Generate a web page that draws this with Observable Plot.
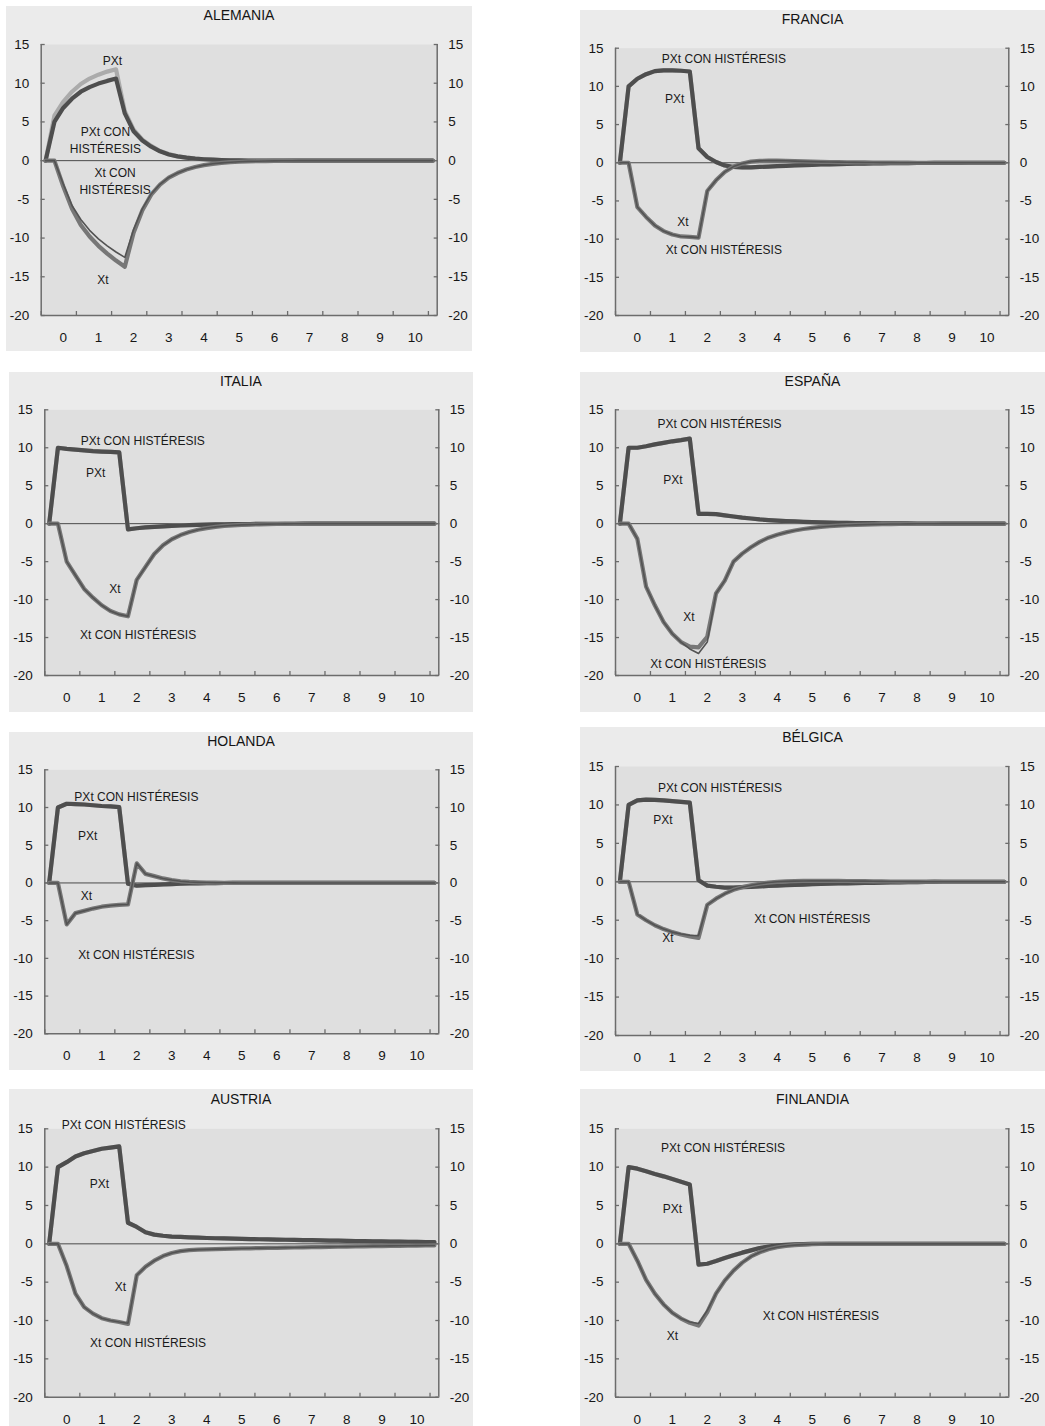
<!DOCTYPE html>
<html>
<head>
<meta charset="utf-8">
<script src="https://cdn.jsdelivr.net/npm/d3@7"></script>
<script src="https://cdn.jsdelivr.net/npm/@observablehq/plot@0.6"></script>
<style>
  body { margin: 0; background: #ffffff; font-family: "Liberation Sans", Arial, sans-serif; }
  #root { position: relative; width: 1045px; height: 1426px; overflow: hidden; }
  .panel { position: absolute; background: #ebebeb; }
  .panel svg { position: absolute; left: 0; top: 0; overflow: visible; }
  .title { position: absolute; left: 0; right: 0; text-align: center; font-size: 14px; line-height: 14px; color: #141414; }
</style>
</head>
<body>
<div id="root"></div>
<script>
// ---------------- DATA ----------------
const countries = ["ALEMANIA", "FRANCIA", "ITALIA", "ESPAÑA", "HOLANDA", "BÉLGICA", "AUSTRIA", "FINLANDIA"];
const yearLabels = [0, 1, 2, 3, 4, 5, 6, 7, 8, 9, 10];
const yTicks = [15, 10, 5, 0, -5, -10, -15, -20];

// quarterly points (45 per series)
const alemaniaPXt = [0, 5.8, 7.6, 8.9, 9.9, 10.6, 11.1, 11.5, 11.8, 6.4, 4.0, 2.7, 1.9, 1.25, 0.85, 0.55, 0.38, 0.26, 0.18, 0.12, 0.08, 0.05, 0.03, 0.02, 0.01, 0, 0, 0, 0, 0, 0, 0, 0, 0, 0, 0, 0, 0, 0, 0, 0, 0, 0, 0, 0];
const alemaniaPXtHist = [0, 5.0, 6.8, 8.0, 8.9, 9.5, 9.95, 10.3, 10.6, 6.1, 3.8, 2.6, 1.8, 1.2, 0.8, 0.55, 0.38, 0.26, 0.18, 0.12, 0.08, 0.05, 0.03, 0.02, 0.01, 0, 0, 0, 0, 0, 0, 0, 0, 0, 0, 0, 0, 0, 0, 0, 0, 0, 0, 0, 0];
const alemaniaXt = [0, 0, -3.3, -6.2, -8.3, -9.8, -11.0, -12.0, -12.9, -13.7, -9.3, -6.4, -4.4, -3.1, -2.2, -1.6, -1.15, -0.82, -0.58, -0.41, -0.29, -0.2, -0.14, -0.1, -0.07, -0.05, -0.03, -0.02, -0.01, 0, 0, 0, 0, 0, 0, 0, 0, 0, 0, 0, 0, 0, 0, 0, 0];
const alemaniaXtHist = [0, 0, -3.0, -5.8, -7.6, -9.0, -10.1, -11.0, -11.8, -12.5, -8.9, -6.2, -4.3, -3.05, -2.17, -1.58, -1.15, -0.82, -0.58, -0.41, -0.29, -0.2, -0.14, -0.1, -0.07, -0.05, -0.03, -0.02, -0.01, 0, 0, 0, 0, 0, 0, 0, 0, 0, 0, 0, 0, 0, 0, 0, 0];

const franciaPXt = [0, 10.0, 11.0, 11.6, 12.0, 12.1, 12.1, 12.05, 11.95, 1.9, 0.75, 0.1, -0.35, -0.55, -0.6, -0.6, -0.55, -0.5, -0.45, -0.4, -0.35, -0.3, -0.27, -0.23, -0.2, -0.17, -0.15, -0.13, -0.11, -0.09, -0.08, -0.06, -0.05, -0.04, -0.03, -0.03, -0.02, -0.02, -0.01, -0.01, 0, 0, 0, 0, 0];
const franciaPXtHist = [0, 10.0, 11.0, 11.6, 12.0, 12.1, 12.1, 12.05, 11.95, 1.9, 0.75, 0.1, -0.35, -0.55, -0.6, -0.6, -0.55, -0.5, -0.45, -0.4, -0.35, -0.3, -0.27, -0.23, -0.2, -0.17, -0.15, -0.13, -0.11, -0.09, -0.08, -0.06, -0.05, -0.04, -0.03, -0.03, -0.02, -0.02, -0.01, -0.01, 0, 0, 0, 0, 0];
const franciaXt = [0, 0, -5.8, -7.1, -8.2, -8.95, -9.4, -9.65, -9.7, -9.8, -3.7, -2.3, -1.2, -0.5, -0.1, 0.15, 0.25, 0.28, 0.28, 0.26, 0.22, 0.18, 0.15, 0.12, 0.1, 0.08, 0.06, 0.05, 0.04, 0.03, 0.02, 0.02, 0.01, 0.01, 0, 0, 0, 0, 0, 0, 0, 0, 0, 0, 0];
const franciaXtHist = [0, 0, -5.8, -7.1, -8.2, -8.95, -9.4, -9.65, -9.7, -9.8, -3.7, -2.3, -1.2, -0.5, -0.1, 0.15, 0.25, 0.28, 0.28, 0.26, 0.22, 0.18, 0.15, 0.12, 0.1, 0.08, 0.06, 0.05, 0.04, 0.03, 0.02, 0.02, 0.01, 0.01, 0, 0, 0, 0, 0, 0, 0, 0, 0, 0, 0];

const italiaPXt = [0, 10.0, 9.85, 9.75, 9.65, 9.55, 9.5, 9.45, 9.4, -0.75, -0.6, -0.5, -0.42, -0.35, -0.29, -0.24, -0.2, -0.16, -0.13, -0.1, -0.08, -0.06, -0.05, -0.04, -0.03, -0.02, -0.02, -0.01, -0.01, 0, 0, 0, 0, 0, 0, 0, 0, 0, 0, 0, 0, 0, 0, 0, 0];
const italiaPXtHist = [0, 10.0, 9.85, 9.75, 9.65, 9.55, 9.5, 9.45, 9.4, -0.75, -0.6, -0.5, -0.42, -0.35, -0.29, -0.24, -0.2, -0.16, -0.13, -0.1, -0.08, -0.06, -0.05, -0.04, -0.03, -0.02, -0.02, -0.01, -0.01, 0, 0, 0, 0, 0, 0, 0, 0, 0, 0, 0, 0, 0, 0, 0, 0];
const italiaXt = [0, 0, -5.0, -6.8, -8.6, -9.75, -10.75, -11.5, -11.95, -12.2, -7.4, -5.7, -4.0, -2.85, -2.05, -1.5, -1.1, -0.8, -0.58, -0.42, -0.3, -0.22, -0.16, -0.12, -0.09, -0.06, -0.04, -0.03, -0.02, -0.01, 0, 0, 0, 0, 0, 0, 0, 0, 0, 0, 0, 0, 0, 0, 0];
const italiaXtHist = [0, 0, -5.0, -6.8, -8.6, -9.75, -10.75, -11.5, -11.95, -12.2, -7.4, -5.7, -4.0, -2.85, -2.05, -1.5, -1.1, -0.8, -0.58, -0.42, -0.3, -0.22, -0.16, -0.12, -0.09, -0.06, -0.04, -0.03, -0.02, -0.01, 0, 0, 0, 0, 0, 0, 0, 0, 0, 0, 0, 0, 0, 0, 0];

const espanaPXt = [0, 10.0, 10.0, 10.2, 10.45, 10.65, 10.85, 11.0, 11.2, 1.3, 1.3, 1.25, 1.1, 0.95, 0.8, 0.68, 0.56, 0.47, 0.4, 0.34, 0.29, 0.24, 0.2, 0.17, 0.14, 0.12, 0.1, 0.08, 0.07, 0.06, 0.05, 0.04, 0.03, 0.03, 0.02, 0.02, 0.01, 0.01, 0, 0, 0, 0, 0, 0, 0];
const espanaPXtHist = [0, 10.0, 10.0, 10.2, 10.45, 10.65, 10.85, 11.0, 11.2, 1.3, 1.3, 1.25, 1.1, 0.95, 0.8, 0.68, 0.56, 0.47, 0.4, 0.34, 0.29, 0.24, 0.2, 0.17, 0.14, 0.12, 0.1, 0.08, 0.07, 0.06, 0.05, 0.04, 0.03, 0.03, 0.02, 0.02, 0.01, 0.01, 0, 0, 0, 0, 0, 0, 0];
const espanaXt = [0, 0, -2.0, -8.3, -10.75, -12.95, -14.5, -15.6, -16.2, -16.3, -14.9, -9.2, -7.5, -5.0, -3.95, -3.1, -2.4, -1.85, -1.45, -1.15, -0.9, -0.7, -0.55, -0.43, -0.33, -0.26, -0.2, -0.16, -0.12, -0.09, -0.07, -0.05, -0.04, -0.03, -0.02, -0.02, -0.01, 0, 0, 0, 0, 0, 0, 0, 0];
const espanaXtHist = [0, 0, -2.0, -8.3, -10.75, -12.95, -14.5, -15.6, -16.5, -17.1, -15.6, -9.2, -7.5, -5.0, -3.95, -3.1, -2.4, -1.85, -1.45, -1.15, -0.9, -0.7, -0.55, -0.43, -0.33, -0.26, -0.2, -0.16, -0.12, -0.09, -0.07, -0.05, -0.04, -0.03, -0.02, -0.02, -0.01, 0, 0, 0, 0, 0, 0, 0, 0];

const holandaPXt = [0, 10.0, 10.5, 10.45, 10.4, 10.3, 10.2, 10.15, 10.05, -0.1, -0.35, -0.3, -0.25, -0.2, -0.15, -0.1, -0.07, -0.05, -0.03, -0.02, -0.01, 0, 0, 0, 0, 0, 0, 0, 0, 0, 0, 0, 0, 0, 0, 0, 0, 0, 0, 0, 0, 0, 0, 0, 0];
const holandaPXtHist = [0, 10.0, 10.5, 10.45, 10.4, 10.3, 10.2, 10.15, 10.05, -0.1, -0.35, -0.3, -0.25, -0.2, -0.15, -0.1, -0.07, -0.05, -0.03, -0.02, -0.01, 0, 0, 0, 0, 0, 0, 0, 0, 0, 0, 0, 0, 0, 0, 0, 0, 0, 0, 0, 0, 0, 0, 0, 0];
const holandaXt = [0, 0, -5.5, -4.0, -3.7, -3.4, -3.15, -3.0, -2.9, -2.85, 2.6, 1.2, 0.9, 0.6, 0.38, 0.22, 0.13, 0.08, 0.05, 0.03, 0.02, 0.01, 0, 0, 0, 0, 0, 0, 0, 0, 0, 0, 0, 0, 0, 0, 0, 0, 0, 0, 0, 0, 0, 0, 0];
const holandaXtHist = [0, 0, -5.5, -4.0, -3.7, -3.4, -3.15, -3.0, -2.9, -2.85, 2.6, 1.2, 0.9, 0.6, 0.38, 0.22, 0.13, 0.08, 0.05, 0.03, 0.02, 0.01, 0, 0, 0, 0, 0, 0, 0, 0, 0, 0, 0, 0, 0, 0, 0, 0, 0, 0, 0, 0, 0, 0, 0];

const belgicaPXt = [0, 10.0, 10.6, 10.7, 10.65, 10.6, 10.5, 10.4, 10.3, 0.2, -0.5, -0.65, -0.75, -0.75, -0.7, -0.65, -0.6, -0.55, -0.5, -0.45, -0.4, -0.36, -0.32, -0.28, -0.25, -0.22, -0.2, -0.17, -0.15, -0.13, -0.1, -0.08, -0.07, -0.05, -0.04, -0.03, -0.02, -0.02, -0.01, -0.01, 0, 0, 0, 0, 0];
const belgicaPXtHist = [0, 10.0, 10.6, 10.7, 10.65, 10.6, 10.5, 10.4, 10.3, 0.2, -0.5, -0.65, -0.75, -0.75, -0.7, -0.65, -0.6, -0.55, -0.5, -0.45, -0.4, -0.36, -0.32, -0.28, -0.25, -0.22, -0.2, -0.17, -0.15, -0.13, -0.1, -0.08, -0.07, -0.05, -0.04, -0.03, -0.02, -0.02, -0.01, -0.01, 0, 0, 0, 0, 0];
const belgicaXt = [0, 0, -4.25, -5.0, -5.65, -6.15, -6.55, -6.85, -7.1, -7.3, -3.0, -2.2, -1.55, -1.05, -0.7, -0.45, -0.25, -0.1, 0.0, 0.05, 0.09, 0.11, 0.12, 0.12, 0.12, 0.11, 0.1, 0.09, 0.08, 0.06, 0.05, 0.04, 0.03, 0.02, 0.02, 0.01, 0.01, 0, 0, 0, 0, 0, 0, 0, 0];
const belgicaXtHist = [0, 0, -4.25, -5.0, -5.65, -6.15, -6.55, -6.8, -6.95, -7.0, -3.0, -2.2, -1.55, -1.05, -0.7, -0.45, -0.25, -0.1, 0.0, 0.05, 0.09, 0.11, 0.12, 0.12, 0.12, 0.11, 0.1, 0.09, 0.08, 0.06, 0.05, 0.04, 0.03, 0.02, 0.02, 0.01, 0.01, 0, 0, 0, 0, 0, 0, 0, 0];

const austriaPXt = [0, 10.0, 10.65, 11.4, 11.8, 12.1, 12.4, 12.55, 12.7, 2.75, 2.2, 1.5, 1.2, 1.05, 0.95, 0.9, 0.85, 0.8, 0.76, 0.73, 0.7, 0.67, 0.65, 0.62, 0.6, 0.58, 0.55, 0.53, 0.51, 0.49, 0.47, 0.45, 0.43, 0.41, 0.39, 0.37, 0.35, 0.33, 0.31, 0.3, 0.28, 0.27, 0.25, 0.24, 0.22];
const austriaPXtHist = [0, 10.0, 10.65, 11.4, 11.8, 12.1, 12.4, 12.55, 12.7, 2.75, 2.2, 1.5, 1.2, 1.05, 0.95, 0.9, 0.85, 0.8, 0.76, 0.73, 0.7, 0.67, 0.65, 0.62, 0.6, 0.58, 0.55, 0.53, 0.51, 0.49, 0.47, 0.45, 0.43, 0.41, 0.39, 0.37, 0.35, 0.33, 0.31, 0.3, 0.28, 0.27, 0.25, 0.24, 0.22];
const austriaXt = [0, 0, -2.9, -6.5, -8.25, -9.1, -9.7, -10.0, -10.2, -10.45, -4.1, -3.0, -2.2, -1.6, -1.2, -0.95, -0.82, -0.76, -0.72, -0.69, -0.66, -0.63, -0.6, -0.58, -0.56, -0.54, -0.52, -0.5, -0.48, -0.46, -0.44, -0.42, -0.4, -0.38, -0.36, -0.34, -0.32, -0.3, -0.29, -0.27, -0.26, -0.25, -0.23, -0.22, -0.21];
const austriaXtHist = [0, 0, -2.9, -6.5, -8.25, -9.1, -9.7, -10.0, -10.2, -10.35, -4.1, -3.0, -2.2, -1.6, -1.2, -0.95, -0.82, -0.76, -0.72, -0.69, -0.66, -0.63, -0.6, -0.58, -0.56, -0.54, -0.52, -0.5, -0.48, -0.46, -0.44, -0.42, -0.4, -0.38, -0.36, -0.34, -0.32, -0.3, -0.29, -0.27, -0.26, -0.25, -0.23, -0.22, -0.21];

const finlandiaPXt = [0, 10.0, 9.8, 9.45, 9.1, 8.8, 8.45, 8.1, 7.75, -2.7, -2.6, -2.25, -1.85, -1.5, -1.15, -0.85, -0.55, -0.35, -0.2, -0.12, -0.06, -0.03, -0.01, 0, 0, 0, 0, 0, 0, 0, 0, 0, 0, 0, 0, 0, 0, 0, 0, 0, 0, 0, 0, 0, 0];
const finlandiaPXtHist = [0, 10.0, 9.8, 9.45, 9.1, 8.8, 8.45, 8.1, 7.75, -2.7, -2.6, -2.25, -1.85, -1.5, -1.15, -0.85, -0.55, -0.35, -0.2, -0.12, -0.06, -0.03, -0.01, 0, 0, 0, 0, 0, 0, 0, 0, 0, 0, 0, 0, 0, 0, 0, 0, 0, 0, 0, 0, 0, 0];
const finlandiaXt = [0, 0, -2.2, -4.7, -6.5, -7.9, -9.0, -9.75, -10.3, -10.65, -8.9, -6.5, -4.8, -3.5, -2.45, -1.65, -1.1, -0.7, -0.45, -0.28, -0.17, -0.1, -0.05, -0.02, 0, 0, 0, 0, 0, 0, 0, 0, 0, 0, 0, 0, 0, 0, 0, 0, 0, 0, 0, 0, 0];
const finlandiaXtHist = [0, 0, -2.2, -4.7, -6.5, -7.9, -9.0, -9.75, -10.2, -10.4, -8.7, -6.5, -4.8, -3.5, -2.45, -1.65, -1.1, -0.7, -0.45, -0.28, -0.17, -0.1, -0.05, -0.02, 0, 0, 0, 0, 0, 0, 0, 0, 0, 0, 0, 0, 0, 0, 0, 0, 0, 0, 0, 0, 0];

// annotation texts and their data positions (quarter index, value)
const alemaniaLabels = [
  {t: "PXt", i: 7.6, v: 13.0}, {t: "PXt CON\nHISTÉRESIS", i: 6.8, v: 2.75},
  {t: "Xt CON\nHISTÉRESIS", i: 7.9, v: -2.55}, {t: "Xt", i: 6.5, v: -15.2}];
const franciaLabels = [
  {t: "PXt CON HISTÉRESIS", i: 11.9, v: 13.7}, {t: "PXt", i: 6.26, v: 8.5},
  {t: "Xt", i: 7.2, v: -7.65}, {t: "Xt CON HISTÉRESIS", i: 11.9, v: -11.25}];
const italiaLabels = [
  {t: "PXt CON HISTÉRESIS", i: 10.7, v: 11.07}, {t: "PXt", i: 5.3, v: 6.8},
  {t: "Xt", i: 7.5, v: -8.5}, {t: "Xt CON HISTÉRESIS", i: 10.16, v: -14.5}];
const espanaLabels = [
  {t: "PXt CON HISTÉRESIS", i: 11.4, v: 13.3}, {t: "PXt", i: 6.07, v: 5.93},
  {t: "Xt", i: 7.9, v: -12.2}, {t: "Xt CON HISTÉRESIS", i: 10.1, v: -18.3}];
const holandaLabels = [
  {t: "PXt CON HISTÉRESIS", i: 9.96, v: 11.5}, {t: "PXt", i: 4.4, v: 6.4},
  {t: "Xt", i: 4.26, v: -1.6}, {t: "Xt CON HISTÉRESIS", i: 9.96, v: -9.4}];
const belgicaLabels = [
  {t: "PXt CON HISTÉRESIS", i: 11.45, v: 12.3}, {t: "PXt", i: 4.92, v: 8.15},
  {t: "Xt", i: 5.5, v: -7.2}, {t: "Xt CON HISTÉRESIS", i: 22.0, v: -4.7}];
const austriaLabels = [
  {t: "PXt CON HISTÉRESIS", i: 8.53, v: 15.65}, {t: "PXt", i: 5.75, v: 7.9},
  {t: "Xt", i: 8.14, v: -5.5}, {t: "Xt CON HISTÉRESIS", i: 11.3, v: -12.8}];
const finlandiaLabels = [
  {t: "PXt CON HISTÉRESIS", i: 11.8, v: 12.6}, {t: "PXt", i: 6.0, v: 4.7},
  {t: "Xt", i: 6.0, v: -11.9}, {t: "Xt CON HISTÉRESIS", i: 23.0, v: -9.26}];

// ---------------- LAYOUT / STYLE ----------------
const panels = [
  {name: countries[0], s: [alemaniaPXt, alemaniaPXtHist, alemaniaXt, alemaniaXtHist], labels: alemaniaLabels},
  {name: countries[1], s: [franciaPXt, franciaPXtHist, franciaXt, franciaXtHist], labels: franciaLabels},
  {name: countries[2], s: [italiaPXt, italiaPXtHist, italiaXt, italiaXtHist], labels: italiaLabels},
  {name: countries[3], s: [espanaPXt, espanaPXtHist, espanaXt, espanaXtHist], labels: espanaLabels},
  {name: countries[4], s: [holandaPXt, holandaPXtHist, holandaXt, holandaXtHist], labels: holandaLabels},
  {name: countries[5], s: [belgicaPXt, belgicaPXtHist, belgicaXt, belgicaXtHist], labels: belgicaLabels},
  {name: countries[6], s: [austriaPXt, austriaPXtHist, austriaXt, austriaXtHist], labels: austriaLabels},
  {name: countries[7], s: [finlandiaPXt, finlandiaPXtHist, finlandiaXt, finlandiaXtHist], labels: finlandiaLabels}
];
const boxes = [
  {x: 6,   y: 6,    w: 466, h: 345, fl: 40.7, fr: 436.7,  ft: 44,     fb: 315,    ty: 15},
  {x: 580, y: 10,   w: 465, h: 342, fl: 615,  fr: 1008.3, ft: 47.7,   fb: 315,    ty: 19},
  {x: 9,   y: 372,  w: 464, h: 340, fl: 44.3, fr: 438.3,  ft: 409.3,  fb: 675,    ty: 380.7},
  {x: 580, y: 372,  w: 465, h: 340, fl: 615,  fr: 1008.3, ft: 409.3,  fb: 675,    ty: 380.7},
  {x: 9,   y: 732,  w: 464, h: 338, fl: 44.3, fr: 438.3,  ft: 769.3,  fb: 1033.3, ty: 740.7},
  {x: 580, y: 727,  w: 465, h: 344, fl: 615,  fr: 1008.3, ft: 766,    fb: 1035,   ty: 736.7},
  {x: 9,   y: 1089, w: 464, h: 337, fl: 44.3, fr: 438.3,  ft: 1128.3, fb: 1396.7, ty: 1099},
  {x: 580, y: 1089, w: 465, h: 337, fl: 615,  fr: 1008.3, ft: 1128.3, fb: 1396.7, ty: 1099}
];
const seriesStyle = [
  {stroke: "#ababab", width: 4.2},   // PXt
  {stroke: "#4e4e4e", width: 4.2},   // PXt con histéresis
  {stroke: "#777777", width: 4.2},   // Xt
  {stroke: "#535353", width: 1.6}    // Xt con histéresis
];
const axisColor = "#6c6c6c";
const font = '"Liberation Sans", Arial, sans-serif';
const tickFont = 13.5;
const xDomain = [-0.5, 44.5];
const boundaries = d3.range(0, 12).map(k => 4 * k - 0.5);
const labelPos = yearLabels.map(y => 4 * y + 2);
const fmtY = d => String(d); // plain hyphen minus, as in the original

const root = document.getElementById("root");

panels.forEach((p, idx) => {
  const b = boxes[idx];
  const div = document.createElement("div");
  div.className = "panel";
  div.style.left = b.x + "px";
  div.style.top = b.y + "px";
  div.style.width = b.w + "px";
  div.style.height = b.h + "px";

  const lineMarks = p.s.map((arr, k) => Plot.line(arr, {
    x: (d, i) => i, y: d => d,
    stroke: seriesStyle[k].stroke, strokeWidth: seriesStyle[k].width,
    strokeLinejoin: "round", strokeLinecap: "round"
  }));

  const chart = Plot.plot({
    width: b.w, height: b.h,
    marginLeft: b.fl - b.x, marginRight: b.x + b.w - b.fr,
    marginTop: b.ft - b.y, marginBottom: b.y + b.h - b.fb,
    x: {domain: xDomain},
    y: {domain: [-20, 15]},
    style: {background: "transparent", fontFamily: font, fontSize: tickFont + "px", color: "#161616", overflow: "visible"},
    marks: [
      Plot.frame({fill: "#dfdfdf", stroke: "none"}),
      Plot.ruleY([0], {stroke: "#4a4a4a", strokeWidth: 1}),
      ...lineMarks,
      Plot.ruleX(xDomain, {stroke: axisColor, strokeWidth: 1.5}),
      Plot.ruleY([-20], {stroke: axisColor, strokeWidth: 1.5}),
      Plot.axisY(yTicks, {anchor: "left", tickSize: 4, dx: 4, fill: "none", stroke: axisColor, strokeWidth: 1.3, label: null}),
      Plot.axisY(yTicks, {anchor: "right", tickSize: 4, dx: -4, fill: "none", stroke: axisColor, strokeWidth: 1.3, label: null}),
      Plot.axisY(yTicks, {anchor: "left", tickSize: 0, tickPadding: 12, fill: "#161616", fontSize: tickFont, tickFormat: fmtY, label: null}),
      Plot.axisY(yTicks, {anchor: "right", tickSize: 0, tickPadding: 11, fill: "#161616", fontSize: tickFont, tickFormat: fmtY, label: null}),
      Plot.axisX(boundaries, {anchor: "bottom", tickSize: 4, dy: -4, fill: "none", stroke: axisColor, strokeWidth: 1.3, label: null}),
      Plot.axisX(labelPos, {anchor: "bottom", tickSize: 0, tickPadding: 17, fill: "#161616", fontSize: tickFont, label: null,
        tickFormat: d => String(yearLabels[(d - 2) / 4])}),
      Plot.text(p.labels, {x: "i", y: "v", text: "t", fontSize: 12, fill: "#1a1a1a", lineHeight: 1.35, fontFamily: font})
    ]
  });
  div.appendChild(chart);

  const t = document.createElement("div");
  t.className = "title";
  t.style.top = (b.ty - b.y - 7) + "px";
  t.textContent = p.name;
  div.appendChild(t);

  root.appendChild(div);
});
</script>
</body>
</html>
